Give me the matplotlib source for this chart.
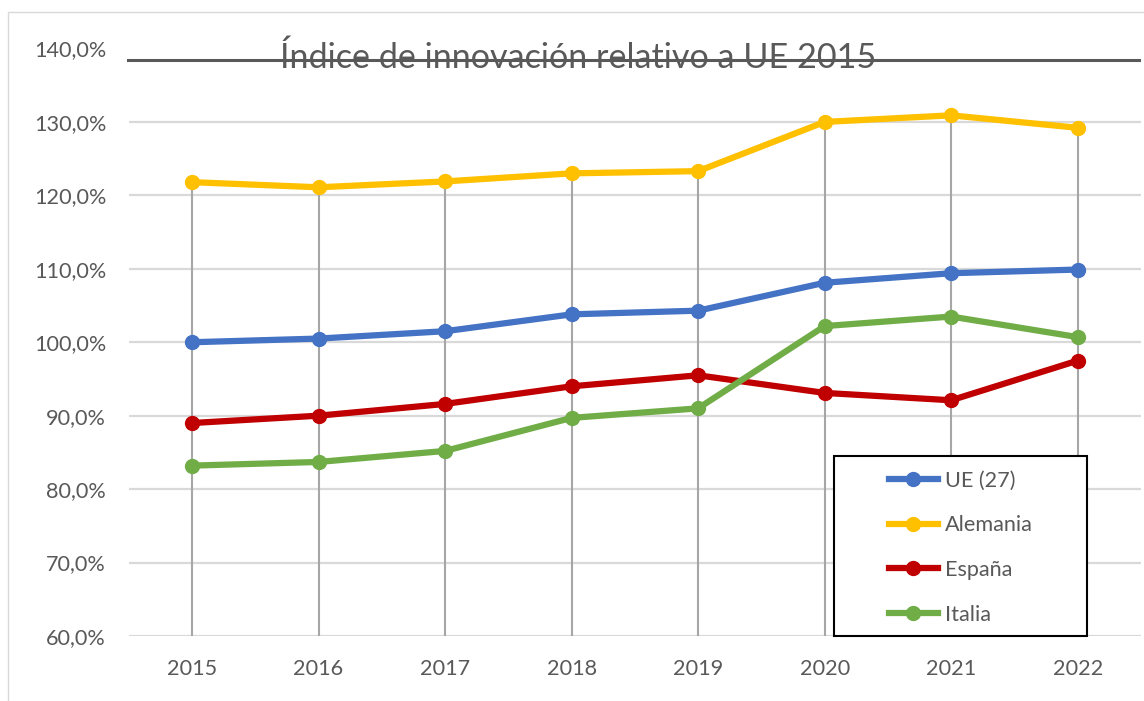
import matplotlib
matplotlib.use("Agg")
import matplotlib.pyplot as plt
from matplotlib.patches import Rectangle
from matplotlib.lines import Line2D

# ---------------- data ----------------
years = ["2015", "2016", "2017", "2018", "2019", "2020", "2021", "2022"]
ue27 = [100.0, 100.5, 101.5, 103.8, 104.3, 108.1, 109.4, 109.9]
alemania = [121.8, 121.1, 121.9, 123.0, 123.3, 130.0, 130.9, 129.2]
espana = [89.0, 90.0, 91.6, 94.0, 95.5, 93.1, 92.1, 97.5]
italia = [83.2, 83.7, 85.2, 89.7, 91.0, 102.2, 103.5, 100.7]
series_names = ["UE (27)", "Alemania", "España", "Italia"]
series_colors = ["#4472C4", "#FFC000", "#C00000", "#70AD47"]
y_ticks = [60, 70, 80, 90, 100, 110, 120, 130, 140]
y_tick_labels = ["60,0%", "70,0%", "80,0%", "90,0%", "100,0%", "110,0%",
                 "120,0%", "130,0%", "140,0%"]
title = "Índice de innovación relativo a UE 2015"

# ---------------- figure ----------------
W, H = 1144, 701
plt.rcParams["font.family"] = ["Lato", "DejaVu Sans"]
fig = plt.figure(figsize=(W / 100, H / 100), dpi=100)

def fx(px):
    return px / W

def fy(py):
    return 1 - py / H

ax = fig.add_axes([fx(128.7), fy(636), fx(1141) - fx(128.7), fy(48.5) - fy(636)])
x = list(range(len(years)))
all_series = [ue27, alemania, espana, italia]

ax.set_xlim(-0.5, len(years) - 0.5)
ax.set_ylim(60, 140)

# drop lines (max value down to axis)
for i in x:
    top = max(s[i] for s in all_series)
    ax.plot([i, i], [60, top], color="#A6A6A6", lw=1.5, zorder=2,
            solid_capstyle="butt")

# gridlines
for v in y_ticks[:-1]:
    ax.axhline(v, color="#D9D9D9", lw=1.6, zorder=1)

lines = []
for s, name, c in zip(all_series, series_names, series_colors):
    ln, = ax.plot(x, s, color=c, lw=4.5, marker="o", markersize=10,
                  label=name, zorder=3, solid_joinstyle="round")
    lines.append(ln)

FS = 15.6
ax.set_xticks(x)
ax.set_xticklabels(years)
ax.set_yticks(y_ticks)
ax.set_yticklabels(y_tick_labels)
ax.tick_params(axis="both", length=0, labelsize=FS, labelcolor="#595959")
ax.tick_params(axis="y", pad=16.3)
ax.tick_params(axis="x", pad=16.5)
for sp in ax.spines.values():
    sp.set_visible(False)
ax.patch.set_alpha(0)

# legend box
fig.patches.append(Rectangle((fx(834), fy(636)), fx(1087) - fx(834), fy(456) - fy(636),
                             transform=fig.transFigure, fill=True, facecolor="white",
                             edgecolor="black", lw=1.5, zorder=5))
leg = fig.legend(handles=lines, loc="upper left",
                 bbox_to_anchor=(fx(889), fy(470.5)), bbox_transform=fig.transFigure,
                 frameon=False, fontsize=FS, handlelength=2.25, handletextpad=0.32,
                 labelspacing=1.14, borderpad=0, borderaxespad=0)
leg.set_zorder(6)
for t in leg.get_texts():
    t.set_color("#595959")

# title and decorative line
fig.text(fx(578), fy(68), title, ha="center", va="baseline", fontsize=24.6,
         color="#595959")
fig.add_artist(Line2D([fx(128), fx(1139)], [fy(60), fy(60)], color="#595959",
                      lw=2.2, transform=fig.transFigure))

# outer chart border
fig.patches.append(Rectangle((fx(8), fy(720)), fx(1200) - fx(8), fy(12) - fy(720),
                             transform=fig.transFigure, fill=False,
                             edgecolor="#D9D9D9", lw=1.0))

fig.savefig("out.png", dpi=100)
